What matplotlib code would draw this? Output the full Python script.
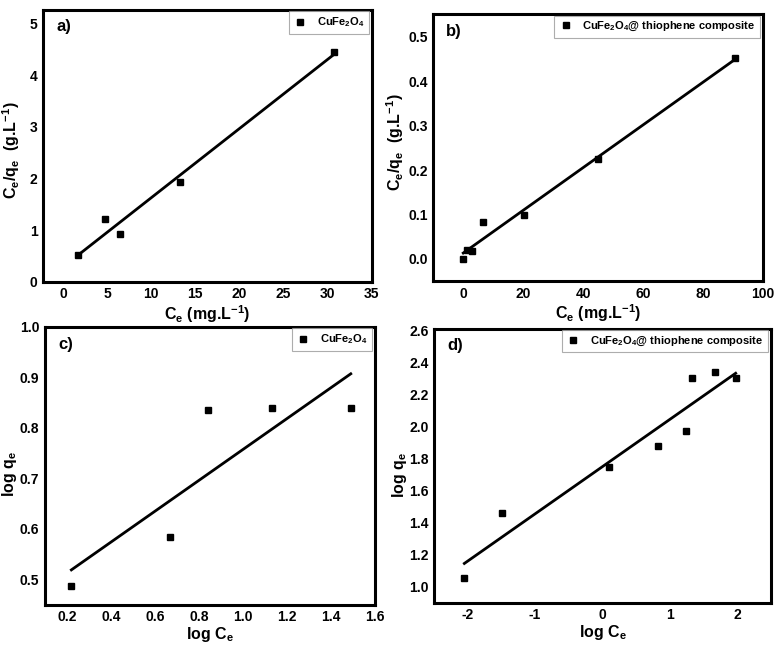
import numpy as np
import matplotlib
matplotlib.use("Agg")
import matplotlib.pyplot as plt

plt.rcParams["font.family"] = ["Liberation Sans", "DejaVu Sans"]
plt.rcParams["font.weight"] = "bold"
plt.rcParams["axes.labelweight"] = "bold"
plt.rcParams["mathtext.fontset"] = "custom"
plt.rcParams["mathtext.rm"] = "Liberation Sans:bold"
plt.rcParams["mathtext.it"] = "Liberation Sans:bold"
plt.rcParams["mathtext.bf"] = "Liberation Sans:bold"

# a) Langmuir, CuFe2O4
a_ce = [1.7, 4.7, 6.4, 13.3, 30.7]
a_ceqe = [0.53, 1.21, 0.93, 1.93, 4.46]

# b) Langmuir, CuFe2O4@ thiophene composite
b_ce = [0.0, 1.4, 3.0, 6.7, 20.3, 44.8, 90.6]
b_ceqe = [0.0, 0.020, 0.017, 0.083, 0.100, 0.224, 0.451]

# c) Freundlich, CuFe2O4
c_logce = [0.22, 0.67, 0.84, 1.13, 1.49]
c_logqe = [0.488, 0.585, 0.836, 0.839, 0.840]

# d) Freundlich, CuFe2O4@ thiophene composite
d_logce = [-2.05, -1.485, 0.09, 0.825, 1.24, 1.32, 1.665, 1.975]
d_logqe = [1.058, 1.458, 1.750, 1.880, 1.970, 2.300, 2.340, 2.300]

lbl_cu = "CuFe$_2$O$_4$"
lbl_comp = "CuFe$_2$O$_4$@ thiophene composite"

fig = plt.figure(figsize=(7.82, 6.51), dpi=100)

panels = [
    # x, y, rect, xlim, ylim, xticks, yticks, xfmt, yfmt, xlabel, ylabel, tag, legend,
    # xlabel y pos, ylabel (x, y) pos
    (a_ce, a_ceqe, [0.055, 0.567, 0.421, 0.418], (-2.3, 35.1), (0, 5.27),
     np.arange(0, 36, 5), np.arange(0, 6, 1), "{:g}", "{:g}",
     "C$_e$ (mg.L$^{-1}$)", "C$_e$/q$_e$  (g.L$^{-1}$)", "a)", lbl_cu,
     -0.077, (-0.064, 0.485)),
    (b_ce, b_ceqe, [0.554, 0.568, 0.422, 0.410], (-10, 100), (-0.05, 0.55),
     np.arange(0, 101, 20), np.arange(0, 0.51, 0.1), "{:g}", "{:.1f}",
     "C$_e$ (mg.L$^{-1}$)", "C$_e$/q$_e$  (g.L$^{-1}$)", "b)", lbl_comp,
     -0.078, (-0.082, 0.52)),
    (c_logce, c_logqe, [0.0575, 0.071, 0.422, 0.427], (0.1, 1.6), (0.45, 1.0),
     np.arange(0.2, 1.61, 0.2), np.arange(0.5, 1.01, 0.1), "{:.1f}", "{:.1f}",
     "log C$_e$", "log q$_e$", "c)", lbl_cu,
     -0.072, (-0.079, 0.47)),
    (d_logce, d_logqe, [0.555, 0.074, 0.431, 0.421], (-2.5, 2.5), (0.9, 2.61),
     np.arange(-2, 3, 1), np.arange(1.0, 2.61, 0.2), "{:g}", "{:.1f}",
     "log C$_e$", "log q$_e$", "d)", lbl_comp,
     -0.073, (-0.074, 0.467)),
]

for (x, y, rect, xl, yl, xt, yt, xf, yf, xlab, ylab, tag, leg,
     xly, yly) in panels:
    ax = fig.add_axes(rect)
    ax.plot(x, y, "s", color="black", markersize=5, label=leg)
    k, b = np.polyfit(x, y, 1)
    xs = np.array([min(x), max(x)])
    ax.plot(xs, k * xs + b, "-", color="black", linewidth=2)
    ax.set_xlim(*xl)
    ax.set_ylim(*yl)
    ax.set_xticks(xt)
    ax.set_yticks(yt)
    ax.set_xticklabels([xf.format(v) for v in xt])
    ax.set_yticklabels([yf.format(v) for v in yt])
    ax.tick_params(length=0, labelsize=10, pad=4)
    for s in ax.spines.values():
        s.set_linewidth(2.2)
    ax.set_xlabel(xlab, fontsize=11.5)
    ax.set_ylabel(ylab, fontsize=11.5)
    ax.xaxis.set_label_coords(0.5, xly)
    ax.yaxis.set_label_coords(*yly)
    ax.text(0.04, 0.965, tag, transform=ax.transAxes, fontsize=12,
            fontweight="bold", va="top", ha="left")
    lg = ax.legend(loc="upper right", bbox_to_anchor=(0.99, 0.995), fontsize=8,
                   frameon=True, fancybox=False, borderaxespad=0,
                   handlelength=1.2, handletextpad=0.9, markerscale=0.8,
                   borderpad=0.4)
    lg.get_frame().set_edgecolor("#999999")
    lg.get_frame().set_linewidth(0.8)

fig.savefig("out.png", dpi=100)
